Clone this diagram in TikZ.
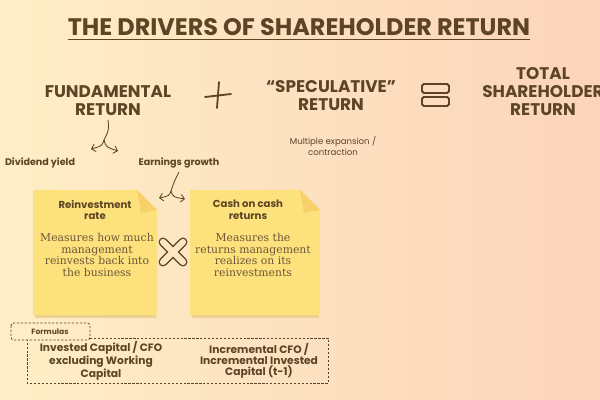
\documentclass[tikz,border=0pt]{standalone}
\usepackage{fontspec}
\setmainfont{DejaVu Serif}
\newfontfamily\handfont{Poppins}
\usepackage{xcolor}
\usepackage{tikz}
\usetikzlibrary{arrows.meta}
\definecolor{ink}{RGB}{92,68,36}
\definecolor{bgleft}{RGB}{254,238,198}
\definecolor{bgright}{RGB}{252,212,186}
\definecolor{notefill}{RGB}{253,225,124}
\definecolor{notefold}{RGB}{247,208,106}
\definecolor{noteshade}{RGB}{236,210,142}
\tikzset{
  font=\handfont,                             % rounded sans everywhere
  titletext/.style = {font=\handfont\bfseries\fontsize{17}{19}\selectfont,
                      text=ink, inner sep=0pt},
  head/.style      = {font=\handfont\bfseries\fontsize{12}{12.8}\selectfont,
                      text=ink, align=center, inner sep=0pt},
  tag/.style       = {font=\handfont\bfseries\fontsize{6.8}{8}\selectfont,
                      text=ink, align=center, inner sep=0pt},
  smalltag/.style  = {font=\handfont\fontsize{6.1}{7.8}\selectfont,
                      text=ink, align=center, inner sep=0pt},
  notehead/.style  = {font=\handfont\bfseries\fontsize{7.2}{8.2}\selectfont,
                      text=ink, align=center, inner sep=0pt},
  notebody/.style  = {font=\rmfamily\fontsize{7.7}{8.4}\selectfont,
                      text=ink!90, align=center, inner sep=0pt},
  formula/.style   = {font=\handfont\bfseries\fontsize{7.6}{8}\selectfont,
                      text=ink, align=center, inner sep=0pt},
  fork/.style      = {draw=ink, line width=0.6pt},
  forktip/.style   = {fork, -{Straight Barb[length=2.6pt,width=5.5pt]}},
  dashbox/.style   = {draw=ink, dashed, line width=0.6pt,
                      dash pattern=on 1.6pt off 1.2pt}
}
\begin{document}
\begin{tikzpicture}[x=0.025cm, y=-0.025cm]
  \useasboundingbox (0,0) rectangle (600,400);
  \clip (0,0) rectangle (600,400);
  \shade[left color=bgleft, right color=bgright] (0,0) rectangle (600,400);

  % title
  \node[titletext] (title) at (299,27) {THE DRIVERS OF SHAREHOLDER RETURN};
  \draw[ink, line width=1.1pt] ([yshift=-2.5pt]title.south west) -- ([yshift=-2.5pt]title.south east);

  % the equation
  \node[head] (fund)  at (108,101) {FUNDAMENTAL\\RETURN};
  \node[head] (spec)  at (331,96)  {“SPECULATIVE”\\RETURN};
  \node[head] (total) at (543,92)  {TOTAL\\SHAREHOLDER\\RETURN};
  \draw[ink, line width=1.3pt, line cap=round] (219,82) .. controls (218,95) .. (217,108);
  \draw[ink, line width=1.3pt, line cap=round] (205,97) .. controls (218,95) .. (231,94);
  \draw[ink, line width=1.4pt, rounded corners=1.2pt] (422,84) rectangle (449,93);
  \draw[ink, line width=1.4pt, rounded corners=1.2pt] (422,97) rectangle (449,106);

  % drivers
  \node[tag] (divy) at (40,163)  {Dividend yield};
  \node[tag] (earn) at (179,163) {Earnings growth};
  \node[smalltag] (mult) at (333,146) {Multiple expansion /\\contraction};

  \coordinate (fundsplit) at (104,140);
  \coordinate (divytip)   at (91,149);
  \coordinate (earntip)   at (118,151);
  \draw[fork] ([yshift=-2.5pt]fund.south) .. controls (109,130) .. (fundsplit);
  \draw[forktip] (fundsplit) .. controls (102,146) .. (divytip);
  \draw[forktip] (fundsplit) .. controls (106,147) .. (earntip);

  \coordinate (earnsplit) at (171,191);
  \coordinate (reinvtip)  at (159,198);
  \coordinate (cashtip)   at (185,199);
  \draw[fork] ([yshift=-2.5pt]earn.south) .. controls (174,182) .. (earnsplit);
  \draw[forktip] (earnsplit) .. controls (169,196) .. (reinvtip);
  \draw[forktip] (earnsplit) .. controls (173,197) .. (cashtip);

  % sticky notes
  \foreach \nx/\nw in {33/124,190/130}{
    \fill[noteshade] ({\nx+2},300) rectangle ({\nx+\nw-1},318);
    \fill[notefill] (\nx,190) -- ({\nx+\nw-20},190) -- ({\nx+\nw},210)
      -- ({\nx+\nw},315) -- (\nx,315) -- cycle;
    \fill[notefold] ({\nx+\nw-20},190) -- ({\nx+\nw},210) -- ({\nx+\nw-16},213) -- cycle;
  }
  \node[notehead] (reinv) at (95,210)  {Reinvestment\\rate};
  \node[notehead] (cash)  at (248,210) {Cash on cash\\returns};
  \node[notebody] (reinvtxt) at (97,255)  {Measures how much\\management\\reinvests back into\\the business};
  \node[notebody] (cashtxt)  at (253,255) {Measures the\\returns management\\realizes on its\\reinvestments};

  % times sign
  \draw[ink, line width=6.4pt, line cap=round] (163,242) -- (183,262) (183,242) -- (163,262);
  \draw[bgright!29!bgleft, line width=4.4pt, line cap=round] (163,242) -- (183,262) (183,242) -- (163,262);

  % formulas
  \draw[dashbox, rounded corners=2pt] (11,323) rectangle (90,340);
  \node[font=\handfont\bfseries\fontsize{5.4}{6}\selectfont, text=ink] (formtab) at (50,331.5) {Formulas};
  \draw[dashbox] (90,338) -- (328,338) -- (328,383) -- (27,383) -- (27,340);
  \node[formula] (reinvform) at (101,361) {Invested Capital / CFO\\excluding Working\\Capital};
  \node[formula] (cashform)  at (259,361) {Incremental CFO /\\Incremental Invested\\Capital (t-1)};
\end{tikzpicture}
\end{document}
